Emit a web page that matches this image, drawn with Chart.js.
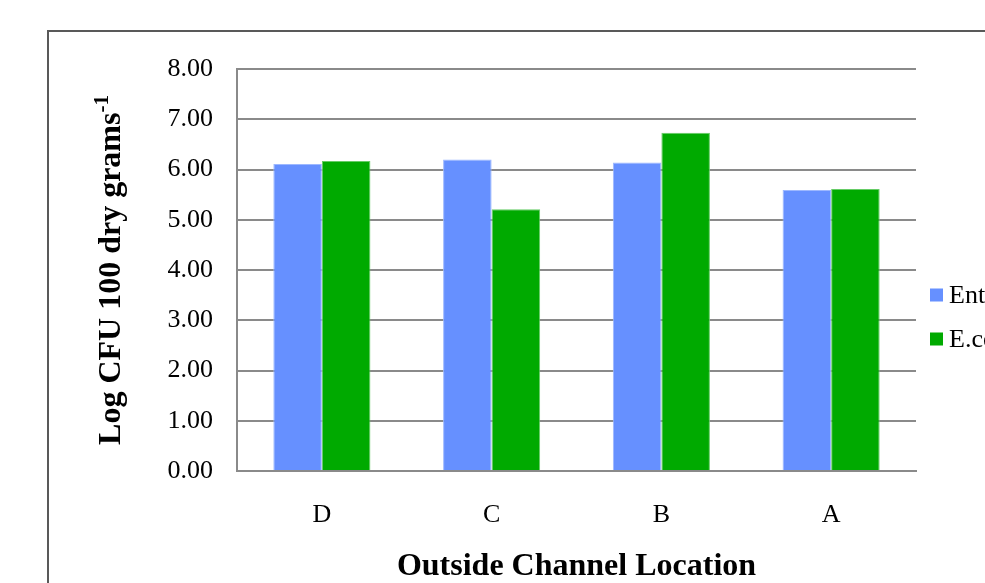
<!DOCTYPE html>
<html>
<head>
<meta charset="utf-8">
<script src="https://cdn.jsdelivr.net/npm/chart.js@4/dist/chart.umd.min.js"></script>
<style>
  html, body { margin: 0; padding: 0; background: #fff; overflow: hidden; width: 985px; height: 583px; }
  #frame { position: absolute; left: 47px; top: 30px; width: 1000px; height: 600px; border: 2px solid #595959; background: #fff; }
  #chart { display: block; }
</style>
</head>
<body>
<div id="frame"><canvas id="chart" width="1000" height="600"></canvas></div>
<script>
// Sample locations along the outside channel
const locations = ['D', 'C', 'B', 'A'];
// Log CFU per 100 dry grams
const enterococci = [6.11, 6.20, 6.14, 5.59];
const ecoli = [6.17, 5.21, 6.73, 5.61];
const seriesNames = ['Enterococci', 'E.coli'];
const yMin = 0, yMax = 8, yStep = 1;

const serif = '"Liberation Serif", "Times New Roman", Times, serif';
const BLUE = '#6690FF', GREEN = '#00AA00';

// Axis titles (with superscript exponent) and the right-hand legend
const decorations = {
  id: 'decorations',
  afterDraw(chart) {
    const ctx = chart.ctx;
    const area = chart.chartArea;
    ctx.save();
    ctx.fillStyle = '#000';

    // x-axis title
    ctx.font = 'bold 32px ' + serif;
    ctx.textAlign = 'center';
    ctx.textBaseline = 'middle';
    ctx.fillText('Outside Channel Location', (area.left + area.right) / 2, 535);

    // y-axis title, rotated
    const main = 'Log CFU 100 dry grams';
    const sup = '-1';
    ctx.translate(71, (area.top + area.bottom) / 2);
    ctx.rotate(-Math.PI / 2);
    ctx.font = 'bold 32px ' + serif;
    const wMain = ctx.measureText(main).width;
    ctx.font = 'bold 21px ' + serif;
    const wSup = ctx.measureText(sup).width;
    const start = -(wMain + wSup) / 2;
    ctx.textAlign = 'left';
    ctx.textBaseline = 'alphabetic';
    ctx.font = 'bold 32px ' + serif;
    ctx.fillText(main, start, 0);
    ctx.font = 'bold 21px ' + serif;
    ctx.fillText(sup, start + wMain, -12);
    ctx.restore();

    // legend
    ctx.save();
    const colors = [BLUE, GREEN];
    ctx.font = '26px ' + serif;
    ctx.textBaseline = 'middle';
    ctx.textAlign = 'left';
    seriesNames.forEach((name, i) => {
      const cy = 263 + i * 44;
      ctx.fillStyle = colors[i];
      ctx.fillRect(881, cy - 6.5, 13, 13);
      ctx.fillStyle = '#000';
      ctx.fillText(name, 900, cy + 1);
    });
    ctx.restore();
  }
};

new Chart(document.getElementById('chart'), {
  type: 'bar',
  data: {
    labels: locations,
    datasets: [
      { label: seriesNames[0], data: enterococci, backgroundColor: BLUE, borderColor: '#9DB8FF', borderWidth: 1 },
      { label: seriesNames[1], data: ecoli, backgroundColor: GREEN, borderColor: '#66CC66', borderWidth: 1 }
    ]
  },
  options: {
    responsive: false,
    animation: false,
    layout: { padding: { left: 0, top: 37, right: 133, bottom: 0 } },
    datasets: { bar: { categoryPercentage: 0.572, barPercentage: 1.0 } },
    plugins: { legend: { display: false }, tooltip: { enabled: false } },
    scales: {
      x: {
        grid: { display: false, drawTicks: false },
        border: { display: true, color: '#8a8a8a', width: 2 },
        ticks: { color: '#000', font: { family: serif, size: 26 }, padding: 29 },
        afterFit(scale) { scale.height = 161; scale.paddingLeft = 0; scale.paddingRight = 0; }
      },
      y: {
        min: yMin, max: yMax,
        grid: { color: '#8a8a8a', lineWidth: 2, drawTicks: false },
        border: { display: true, color: '#8a8a8a', width: 2 },
        ticks: {
          stepSize: yStep, color: '#000', padding: 24,
          font: { family: serif, size: 26 },
          callback: v => v.toFixed(2)
        },
        afterFit(scale) { scale.width = 188; scale.paddingTop = 0; scale.paddingBottom = 0; }
      }
    }
  },
  plugins: [decorations]
});
</script>
</body>
</html>
